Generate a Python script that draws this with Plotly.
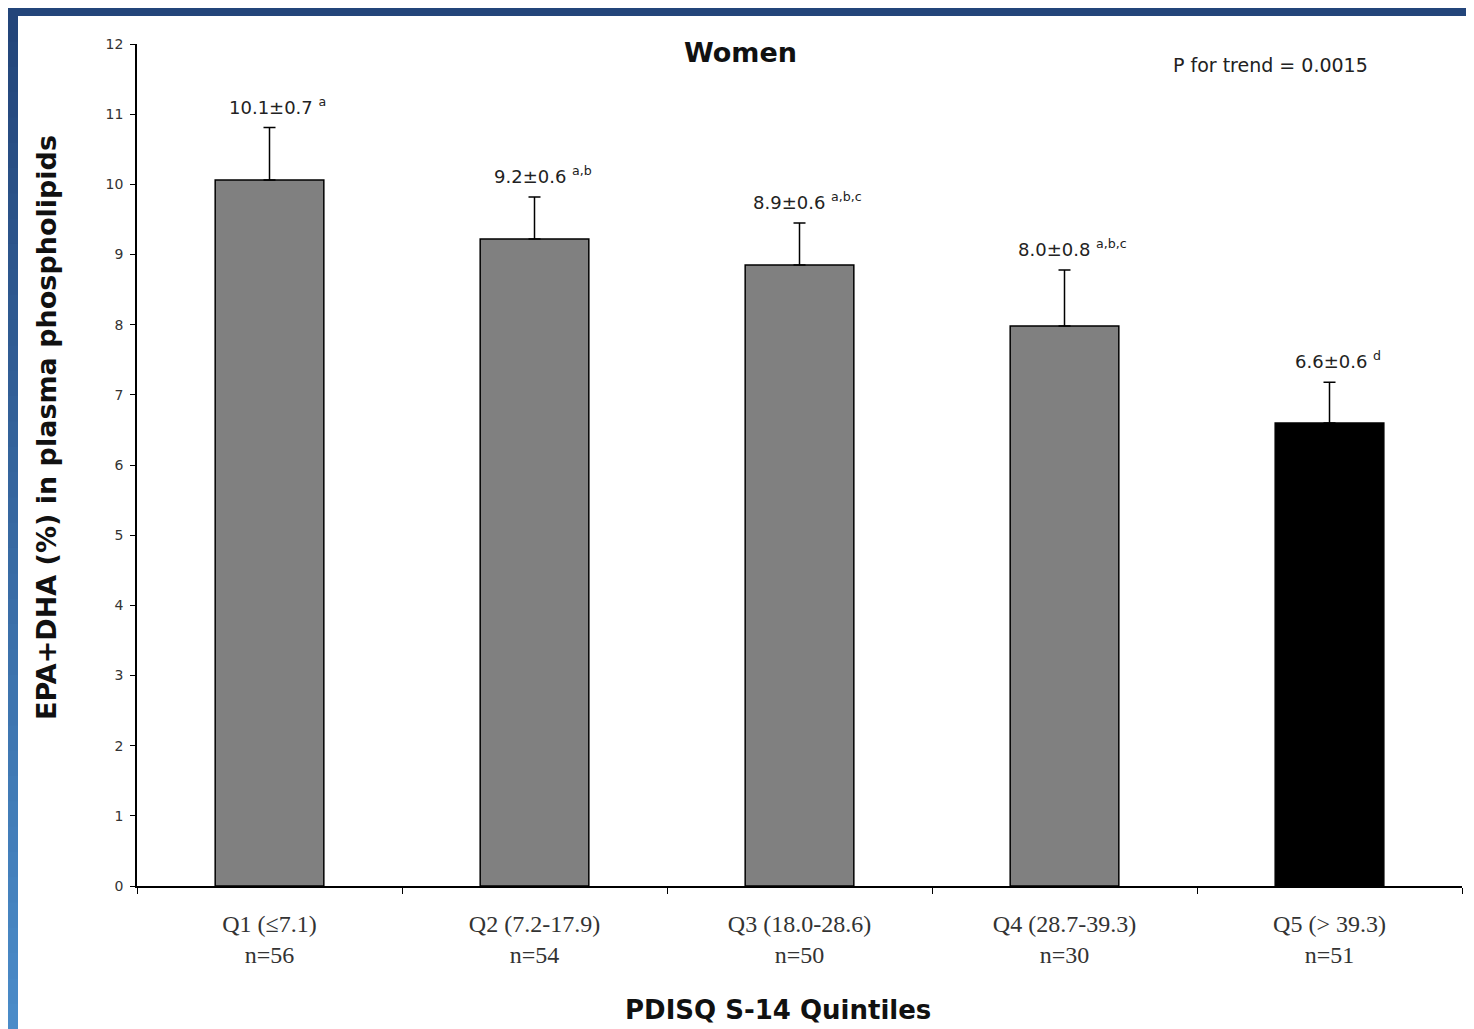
import plotly.graph_objects as go

categories = ["Q1 (≤7.1)<br>n=56", "Q2 (7.2-17.9)<br>n=54", "Q3 (18.0-28.6)<br>n=50",
              "Q4 (28.7-39.3)<br>n=30", "Q5 (> 39.3)<br>n=51"]
means = [10.06, 9.22, 8.85, 7.98, 6.6]
errors = [0.75, 0.6, 0.6, 0.8, 0.58]
value_labels = ["10.1±0.7", "9.2±0.6", "8.9±0.6", "8.0±0.8", "6.6±0.6"]
superscripts = ["a", "a,b", "a,b,c", "a,b,c", "d"]
bar_colors = ["#808080", "#808080", "#808080", "#808080", "#000000"]

OFF = 8  # page body margin
W, H = 1474 - OFF, 1029 - OFF
L, R, T, B = 129, 12, 36, 143
pw, ph = W - L - R, H - T - B

def px_x(p):
    return (p - OFF - L) / pw

def px_y(p):
    return (H - B - (p - OFF)) / ph

fig = go.Figure()
fig.add_trace(go.Bar(
    x=categories, y=means, width=0.41,
    marker=dict(color=bar_colors, line=dict(color="#000000", width=1.5)),
    error_y=dict(type="data", array=errors, arrayminus=[0] * len(errors),
                 symmetric=False, color="#000000", thickness=1.5, width=6),
    showlegend=False,
))

annotations = []
for c, m, e, lab, sup in zip(categories, means, errors, value_labels, superscripts):
    annotations.append(dict(
        x=c, y=m + e, xref="x", yref="y", text=f"{lab} <sup>{sup}</sup>",
        showarrow=False, yanchor="bottom", xanchor="center", yshift=8, xshift=8,
        font=dict(family="DejaVu Sans", size=18, color="#222222")))

annotations += [
    dict(x=px_x(740), y=px_y(52), xref="paper", yref="paper", text="<b>Women</b>",
         xanchor="center", yanchor="middle", showarrow=False,
         font=dict(family="DejaVu Sans", size=27, color="#111111")),
    dict(x=px_x(1270), y=px_y(65), xref="paper", yref="paper", text="P for trend = 0.0015",
         xanchor="center", yanchor="middle", showarrow=False,
         font=dict(family="DejaVu Sans", size=19, color="#222222")),
    dict(x=px_x(47), y=px_y(428), xref="paper", yref="paper", textangle=-90,
         xanchor="center", yanchor="middle",
         text="<b>EPA+DHA (%) in plasma phospholipids</b>", showarrow=False,
         font=dict(family="DejaVu Sans", size=27, color="#111111")),
    dict(x=px_x(778), y=px_y(1010), xref="paper", yref="paper",
         xanchor="center", yanchor="middle",
         text="<b>PDISQ S-14 Quintiles</b>", showarrow=False,
         font=dict(family="DejaVu Sans", size=26, color="#111111")),
]

# blue frame (top band and left gradient band) along the figure's edges
def fx(p):
    return (p - L) / pw

def fy(p):
    return (H - B - p) / ph

shapes = [dict(type="rect", xref="paper", yref="paper", x0=fx(0), x1=fx(W),
               y0=fy(8), y1=fy(0), fillcolor="#23457a", line=dict(width=0), layer="above")]
n = 40
c0 = (0x23, 0x45, 0x7a)
c1 = (0x4a, 0x8b, 0xc8)
for i in range(n):
    t = i / (n - 1)
    col = "rgb(%d,%d,%d)" % tuple(round(a + (b - a) * t) for a, b in zip(c0, c1))
    y_top = 8 + (H - 8) * i / n
    y_bot = 8 + (H - 8) * (i + 1) / n
    shapes.append(dict(type="rect", xref="paper", yref="paper", x0=fx(0), x1=fx(10),
                       y0=fy(y_bot + 1), y1=fy(y_top), fillcolor=col,
                       line=dict(width=0), layer="above"))

fig.update_layout(
    width=W, height=H,
    margin=dict(l=L, r=R, t=T, b=B, pad=0),
    paper_bgcolor="white", plot_bgcolor="white",
    annotations=annotations, shapes=shapes,
    xaxis=dict(showline=True, linecolor="#000000", linewidth=1.5, ticks="outside",
               tickson="boundaries", ticklen=6, tickcolor="#000000", showgrid=False,
               tickfont=dict(family="Liberation Serif", size=24, color="#333333"),
               ticklabelstandoff=15),
    yaxis=dict(range=[0, 12], dtick=1, showline=True, linecolor="#000000", linewidth=1.5,
               ticks="outside", ticklen=5, tickcolor="#000000", showgrid=False,
               zeroline=False, tickfont=dict(family="DejaVu Sans", size=14, color="#333333"),
               ticklabelstandoff=4),
)

fig.write_html("out.html")
